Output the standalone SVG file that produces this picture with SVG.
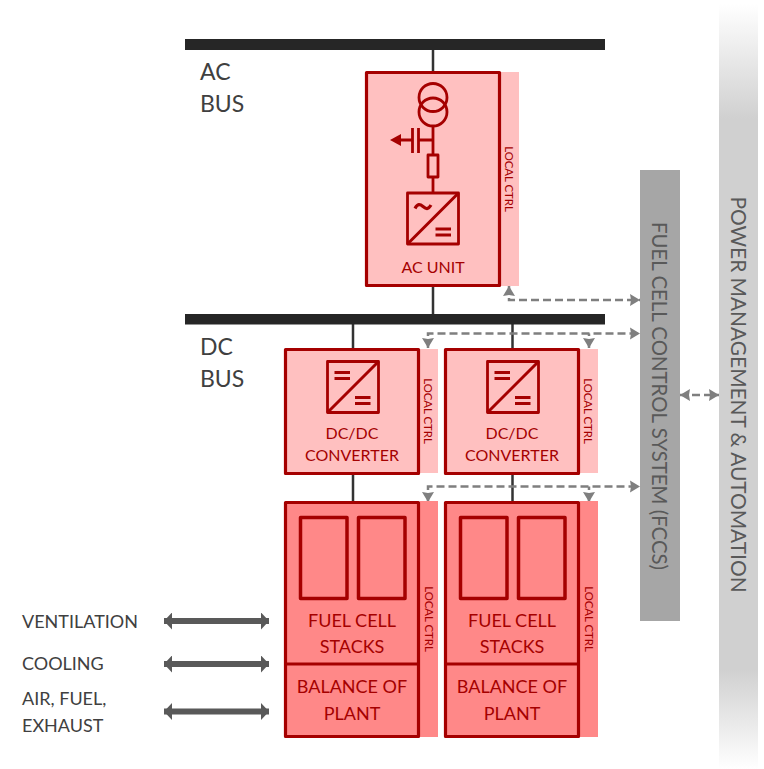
<svg xmlns="http://www.w3.org/2000/svg" width="764" height="769" viewBox="0 0 764 769">
<style>
text{font-family:"Lato","Liberation Sans",sans-serif}
.bus{fill:#262626}
.wire{stroke:#333;stroke-width:2.5;fill:none}
.box{stroke:#a50000;stroke-width:3.2;stroke-linejoin:round}
.l{fill:#ffc0c0}.d{fill:#ff8888}
.sym{stroke:#a50000;stroke-width:2.8;fill:none;stroke-linejoin:round}
.t{fill:#a50000;font-size:16px;text-anchor:middle}
.s{font-size:18px}
.lc{fill:#a50000;font-size:11.400px;text-anchor:middle}
.lab{fill:#404040;font-size:18px}
.big{fill:#404040;font-size:23px}
.bar{fill:#595959;text-anchor:middle}
.dash{stroke:#7f7f7f;stroke-width:2.5;stroke-dasharray:8 4;fill:none}
.thick{stroke:#595959;stroke-width:6;fill:none}
</style>
<defs>
<linearGradient id="pm" x1="0" y1="0" x2="0" y2="1">
<stop offset="0" stop-color="#fff"/><stop offset=".15" stop-color="#d0d0d0"/><stop offset=".87" stop-color="#d0d0d0"/><stop offset="1" stop-color="#fff"/>
</linearGradient>
<g id="dcsym"><rect class="sym" x="0" y="0" width="51" height="51"/><path class="sym" style="stroke-width:3" d="M0 51L51 0M7 11H22.500M7 17H22.500M27.500 36H43M27.500 42H43"/></g>
<marker id="h" markerUnits="userSpaceOnUse" markerWidth="11" markerHeight="13" refX="10" refY="6.500" orient="auto-start-reverse"><path d="M0 0.500L10 6.500L0 12.500L1 6.500Z" fill="#7f7f7f"/></marker>
<marker id="tk" markerUnits="userSpaceOnUse" markerWidth="9" markerHeight="17" refX="8" refY="8.500" orient="auto-start-reverse"><path d="M0 0L8 8.500L0 17Z" fill="#595959"/></marker>
</defs>
<g id="power-management"><rect x="719" y="4" width="39" height="765" fill="url(#pm)"/><text class="bar" style="font-size:20.900px" transform="translate(731 394.500) rotate(90)">POWER MANAGEMENT &amp; AUTOMATION</text></g>
<g id="fccs"><rect x="640" y="170" width="40" height="451" fill="#a6a6a6"/><text class="bar" style="font-size:20.400px" transform="translate(652 396) rotate(90)">FUEL CELL CONTROL SYSTEM (FCCS)</text></g>
<g id="connectors">
<path class="wire" d="M433 50V72M433 286V314M353 324V348M353 475V502M512.500 324V348M512.500 475V502"/>
<path class="dash" d="M509 286V300H640" marker-start="url(#h)" marker-end="url(#h)"/>
<path class="dash" d="M589 348V333.500" marker-start="url(#h)"/>
<path class="dash" d="M428 348V333.500H640" marker-start="url(#h)" marker-end="url(#h)"/>
<path class="dash" d="M589 502V486.500" marker-start="url(#h)"/>
<path class="dash" d="M428 502V486.500H640" marker-start="url(#h)" marker-end="url(#h)"/>
<path class="dash" d="M680 395H719" marker-start="url(#h)" marker-end="url(#h)"/>
<path class="thick" d="M164 621H269" marker-start="url(#tk)" marker-end="url(#tk)"/>
<path class="thick" d="M164 664H269" marker-start="url(#tk)" marker-end="url(#tk)"/>
<path class="thick" d="M164 711.500H269" marker-start="url(#tk)" marker-end="url(#tk)"/>
</g>
<g id="ac-bus"><rect class="bus" x="185" y="39" width="420" height="11"/><text class="big" x="200" y="80">AC</text><text class="big" x="200" y="112">BUS</text></g>
<g id="dc-bus"><rect class="bus" x="185" y="314" width="420" height="10.500"/><text class="big" x="200" y="355">DC</text><text class="big" x="200" y="387">BUS</text></g>
<g id="ac-unit">
<rect class="l" x="499" y="72" width="20" height="214"/>
<rect class="box l" x="366.500" y="72.500" width="133" height="213"/>
<circle class="sym" cx="433" cy="97.500" r="14"/><circle class="sym" cx="433" cy="112" r="14"/>
<path class="sym" d="M433 126V155M433 177V192M433 140H418.500M418.500 128V153M412.500 128V153M412.500 140H400"/>
<path d="M390 140L401 134V146Z" fill="#a50000"/>
<rect class="sym" x="428" y="155" width="10" height="22"/>
<rect class="sym" x="407.500" y="193" width="51" height="51"/>
<path class="sym" style="stroke-width:3" d="M407.500 244L458.500 193M435.500 229H451M435.500 235H451"/>
<path class="sym" style="stroke-width:3.200" d="M415 208.500C417.500 203.500 420 204 423 206.500S428 210 431 205"/>
<text class="t" x="433" y="273">AC UNIT</text>
<text class="lc" transform="translate(505 179) rotate(90)">LOCAL CTRL</text>
</g>
<g id="dcdc-1">
<rect class="l" x="420" y="349" width="18" height="124"/>
<rect class="box l" x="285.500" y="349.500" width="133" height="124"/>
<use href="#dcsym" x="327.500" y="361.500"/>
<text class="t" x="352" y="438.500">DC/DC</text><text class="t" x="352" y="461">CONVERTER</text>
<text class="lc" transform="translate(424 411) rotate(90)">LOCAL CTRL</text>
</g>
<g id="dcdc-2">
<rect class="l" x="580" y="349" width="18" height="124"/>
<rect class="box l" x="445.500" y="349.500" width="133" height="124"/>
<use href="#dcsym" x="487.500" y="361.500"/>
<text class="t" x="512" y="438.500">DC/DC</text><text class="t" x="512" y="461">CONVERTER</text>
<text class="lc" transform="translate(584 411) rotate(90)">LOCAL CTRL</text>
</g>
<g id="stack-1">
<rect class="d" x="420" y="501" width="18" height="236"/>
<rect class="box d" x="285.500" y="502.500" width="133" height="234"/>
<path class="box" d="M285.500 664H418.500"/>
<rect class="box d" x="300.500" y="517.500" width="46.500" height="81" style="stroke-width:3.500"/>
<rect class="box d" x="358.500" y="517.500" width="46.500" height="81" style="stroke-width:3.500"/>
<text class="t s" x="352" y="627">FUEL CELL</text><text class="t s" x="352" y="653">STACKS</text>
<text class="t s" x="352" y="693">BALANCE OF</text><text class="t s" x="352" y="720">PLANT</text>
<text class="lc" transform="translate(425 619) rotate(90)">LOCAL CTRL</text>
</g>
<g id="stack-2">
<rect class="d" x="580" y="501" width="18" height="236"/>
<rect class="box d" x="445.500" y="502.500" width="133" height="234"/>
<path class="box" d="M445.500 664H578.500"/>
<rect class="box d" x="460.500" y="517.500" width="46.500" height="81" style="stroke-width:3.500"/>
<rect class="box d" x="518.500" y="517.500" width="46.500" height="81" style="stroke-width:3.500"/>
<text class="t s" x="512" y="627">FUEL CELL</text><text class="t s" x="512" y="653">STACKS</text>
<text class="t s" x="512" y="693">BALANCE OF</text><text class="t s" x="512" y="720">PLANT</text>
<text class="lc" transform="translate(585 619) rotate(90)">LOCAL CTRL</text>
</g>
<g id="labels">
<text class="lab" x="22" y="628">VENTILATION</text>
<text class="lab" x="22" y="670">COOLING</text>
<text class="lab" x="22" y="705">AIR, FUEL,</text>
<text class="lab" x="22" y="732">EXHAUST</text>
</g>
</svg>
